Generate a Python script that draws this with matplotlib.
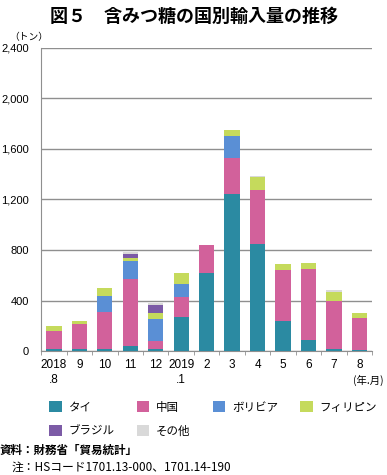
import matplotlib
matplotlib.use('Agg')
import matplotlib.pyplot as plt
import numpy as np

plt.rcParams['font.family'] = ['Noto Sans CJK JP', 'DejaVu Sans']

# month labels
months = ['2018\n.8', '9', '10', '11', '12', '2019\n.1', '2', '3', '4', '5', '6', '7', '8']

# values in tonnes
thai = [15, 15, 15, 40, 15, 270, 615, 1241, 846, 239, 88, 15, 12]
china = [145, 197, 295, 528, 65, 155, 225, 291, 426, 400, 564, 385, 248]
bolivia = [0, 0, 125, 148, 170, 103, 0, 169, 0, 0, 0, 0, 0]
philippines = [37, 24, 61, 19, 55, 92, 0, 48, 106, 53, 48, 69, 45]
brazil = [0, 0, 0, 34, 58, 0, 0, 0, 0, 0, 0, 0, 0]
others = [0, 0, 0, 18, 19, 0, 0, 0, 11, 0, 0, 16, 0]

series = [
    ('タイ', thai, '#2b8aa2'),
    ('中国', china, '#d2619b'),
    ('ボリビア', bolivia, '#5a8fd5'),
    ('フィリピン', philippines, '#c5da5c'),
    ('ブラジル', brazil, '#7c5ba6'),
    ('その他', others, '#d9d9d9'),
]

fig = plt.figure(figsize=(3.87, 4.75), dpi=100)
ax = fig.add_axes([0.1065, 0.261, 0.855, 0.638])

x = np.arange(len(months))
bottom = np.zeros(len(months))
bars = {}
for name, vals, col in series:
    vals = np.array(vals, dtype=float)
    bars[name] = ax.bar(x, vals, 0.6, bottom=bottom, color=col, label=name, zorder=3)
    bottom += vals

ax.set_ylim(0, 2400)
ax.set_xlim(-0.5, len(months) - 0.5)
ax.set_yticks(range(0, 2401, 400))
ax.set_yticklabels([f'{v:,}' for v in range(0, 2401, 400)], family='Liberation Sans', fontsize=8)
ax.yaxis.grid(True, color='#8f8f8f', linewidth=1)
ax.set_axisbelow(True)
ax.tick_params(axis='y', length=0, pad=9)

ax.set_xticks(x)
ax.set_xticklabels(months, family='Liberation Sans', fontsize=8.5, linespacing=1.3, va='top')
ax.set_xticks(np.arange(-0.5, len(months), 1), minor=True)
ax.tick_params(axis='x', which='major', length=0, pad=6)
ax.tick_params(axis='x', which='minor', length=3, color='#8f8f8f', direction='out')

for s in ['top', 'right']:
    ax.spines[s].set_visible(False)
for s in ['left', 'bottom']:
    ax.spines[s].set_color('#8f8f8f')

fig.text(0.5, 0.965, '図５　含みつ糖の国別輸入量の推移', ha='center', va='center',
         fontsize=13, fontweight='bold')
fig.text(0.025, 0.922, '（トン）', fontsize=7, va='center')
fig.text(0.99, 0.2, '(年.月)', fontsize=7.5, ha='right', va='center')

order = ['タイ', 'ブラジル', '中国', 'その他', 'ボリビア', 'フィリピン']
fig.legend([bars[n] for n in order], order, ncol=4, loc='upper left',
           bbox_to_anchor=(0.1, 0.178), frameon=False, fontsize=8.3,
           handlelength=1.1, handleheight=1.1, columnspacing=1.9,
           handletextpad=0.6, labelspacing=0.95)

fig.text(0.0, 0.052, '資料：財務省「貿易統計」', fontsize=8.3, fontweight='bold', va='center')
fig.text(0.03, 0.017, '注：HSコード1701.13-000、1701.14-190', fontsize=8.5, va='center')

fig.savefig('out.png', dpi=100)
